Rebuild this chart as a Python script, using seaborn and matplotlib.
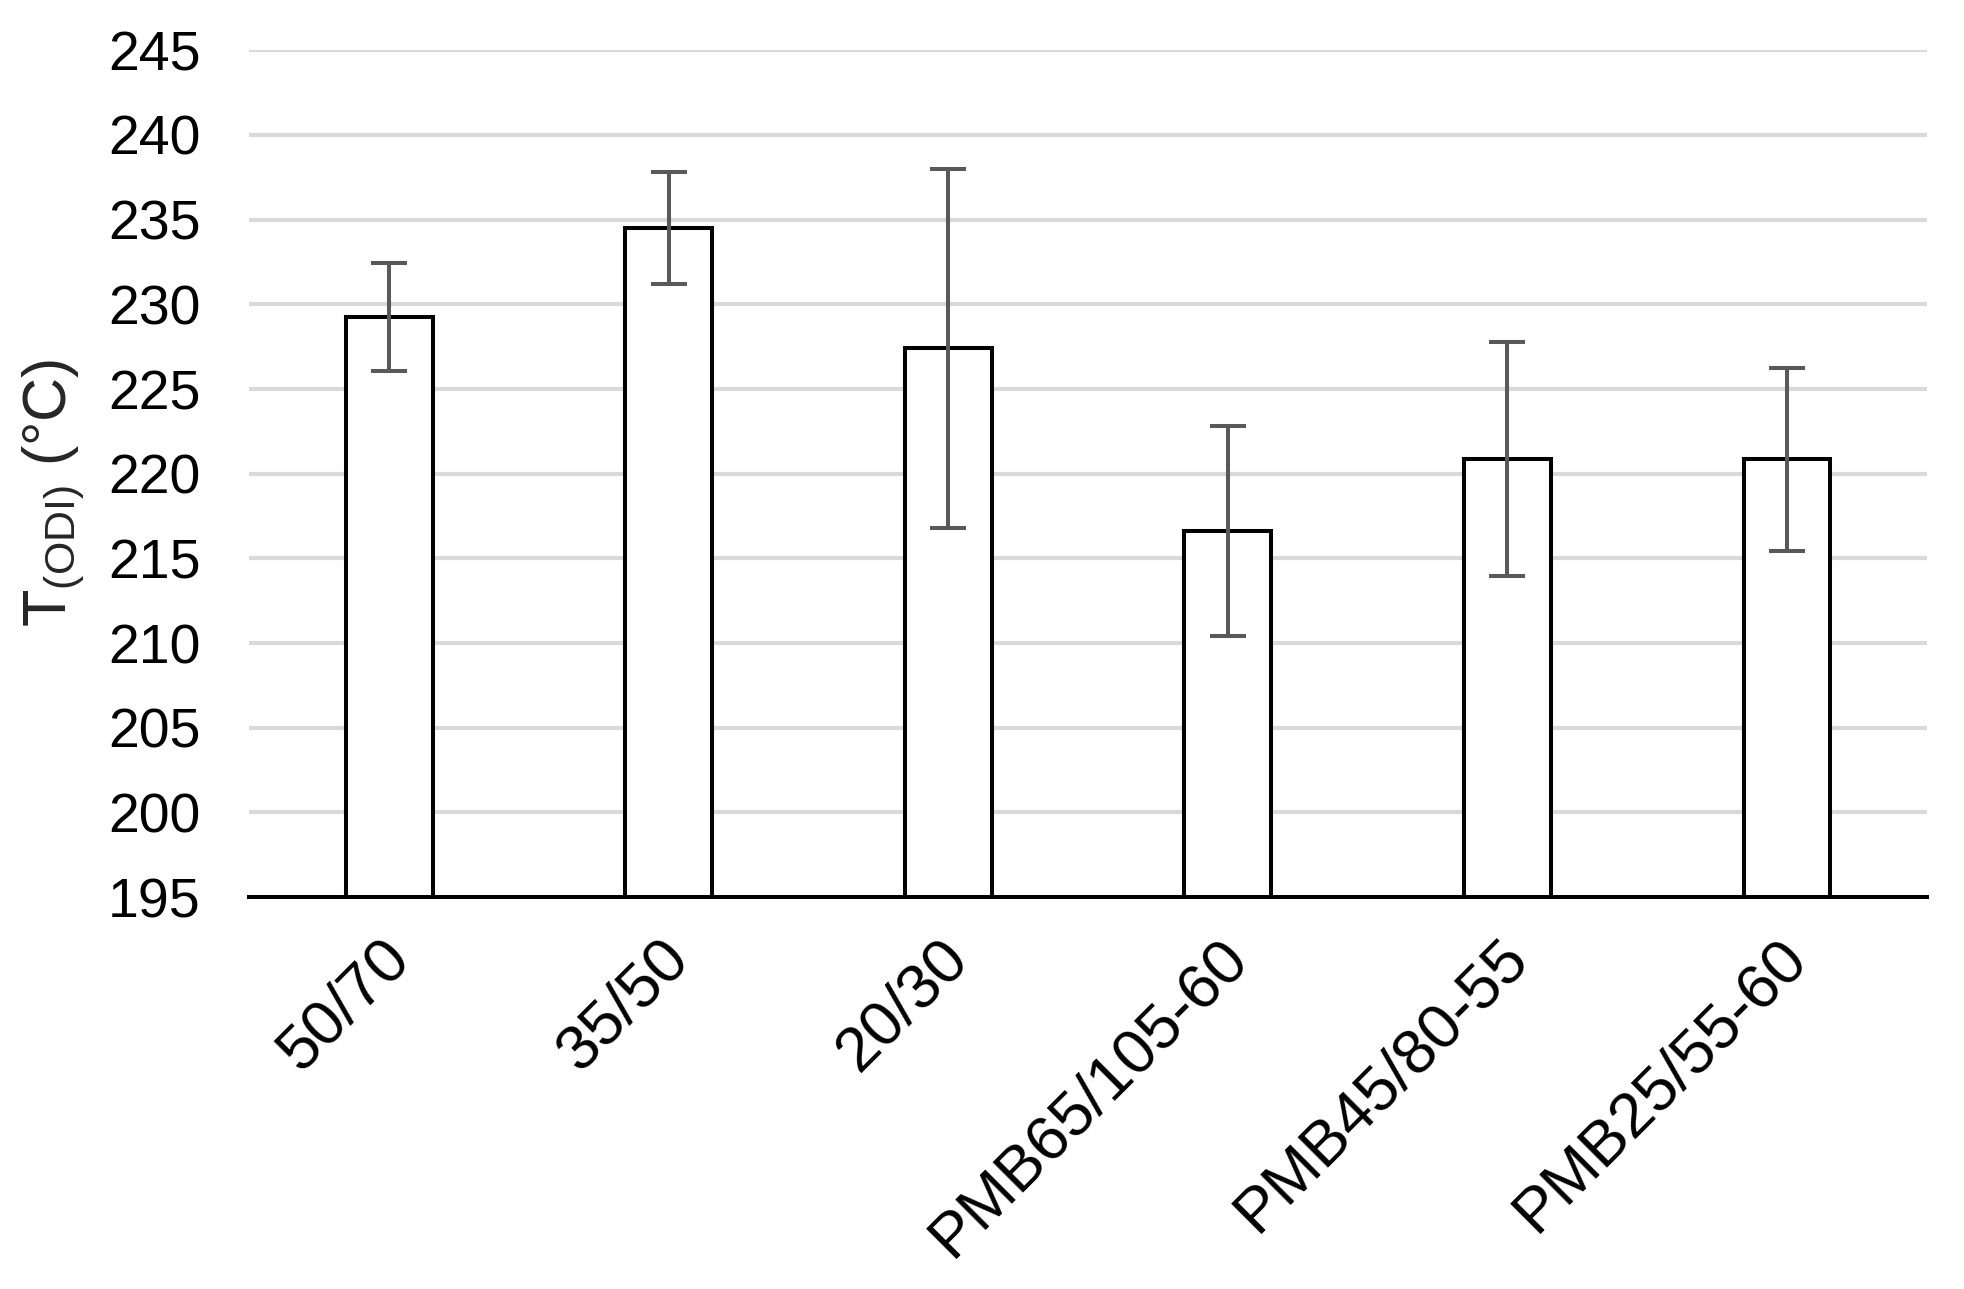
import matplotlib
matplotlib.use("Agg")
import matplotlib.pyplot as plt
import matplotlib.transforms as mtransforms
import seaborn as sns
import pandas as pd

categories = ["50/70", "35/50", "20/30", "PMB65/105-60", "PMB45/80-55", "PMB25/55-60"]
t_odi = [229.25, 234.5, 227.4, 216.6, 220.85, 220.85]
t_err = [3.2, 3.3, 10.6, 6.2, 6.9, 5.4]
y_ticks = [195, 200, 205, 210, 215, 220, 225, 230, 235, 240, 245]

sns.set_theme(style="white")
plt.rcParams['font.family'] = ['Liberation Sans', 'DejaVu Sans']
plt.rcParams['mathtext.default'] = 'regular'

df = pd.DataFrame({"cat": categories, "val": t_odi})

fig = plt.figure(figsize=(19.64, 12.89), dpi=100)
ax = fig.add_axes([0.127, 0.304, 0.854, 0.657])

for t in y_ticks[1:]:
    ax.axhline(t, color="#D9D9D9", lw=3.0, zorder=0)

sns.barplot(data=df, x="cat", y="val", color="white", edgecolor="black",
            linewidth=2.9, width=0.31, ax=ax, zorder=2, errorbar=None)
ax.errorbar(range(len(categories)), t_odi, yerr=t_err, fmt="none",
            ecolor="#595959", elinewidth=2.9, capsize=13, capthick=2.9, zorder=3)

ax.set_ylim(195, 245)
ax.set_yticks(y_ticks)
ax.set_xlim(-0.5, len(categories) - 0.5)
for s in ["top", "right", "left"]:
    ax.spines[s].set_visible(False)
ax.spines["bottom"].set_color("black")
ax.spines["bottom"].set_linewidth(2.9)
ax.spines["bottom"].set_zorder(4)
ax.tick_params(axis="both", length=0, colors="black")
ax.tick_params(axis="y", pad=35, labelsize=40)
ax.tick_params(axis="x", pad=22, labelsize=45.5)
offset = mtransforms.ScaledTranslation(-0.10, 0, fig.dpi_scale_trans)
for lab in ax.get_xticklabels():
    lab.set_rotation(45)
    lab.set_ha("right")
    lab.set_rotation_mode("anchor")
    lab.set_transform(lab.get_transform() + offset)
ax.set_xlabel("")
ax.set_ylabel("T$_{(ODI)}$ (°C)", fontsize=44)
ax.yaxis.set_label_coords(-0.097, 0.478)

fig.savefig("out.png", dpi=100)
